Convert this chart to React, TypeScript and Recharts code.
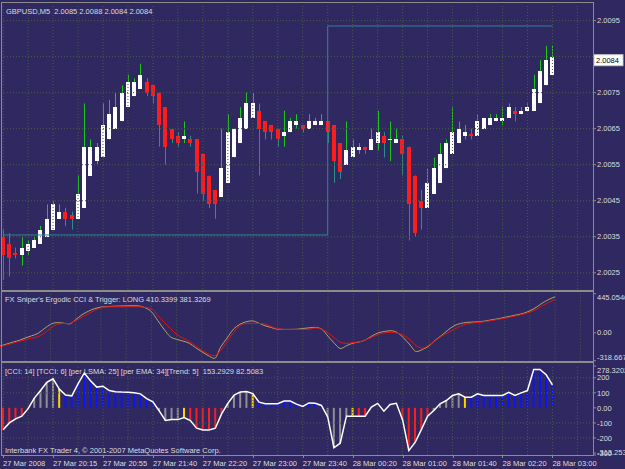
import React from "react";
import { ComposedChart, Bar, Line, XAxis, YAxis, ReferenceLine, Cell } from "recharts";

// GBPUSD M5 candles, one per 5-minute bar
const open = [
  2.0035, 2.0033, 2.00305, 2.003, 2.0031, 2.0032, 2.0033, 2.0035, 2.0037, 2.004,
  2.0042, 2.0041, 2.004, 2.0043, 2.0052, 2.0056, 2.0057, 2.0062, 2.0065, 2.0067,
  2.0071, 2.0074, 2.0076, 2.0078, 2.0077, 2.0075, 2.0071, 2.0065, 2.0063, 2.0062,
  2.0062, 2.0062, 2.0058, 2.0052, 2.0048, 2.0046, 2.005, 2.0057, 2.0061, 2.0065,
  2.0068, 2.007, 2.0067, 2.0066, 2.0065, 2.0063, 2.0064, 2.0066, 2.0066, 2.0065,
  2.0066, 2.0066, 2.0067, 2.0066, 2.0061, 2.0055, 2.0057, 2.0059, 2.006, 2.0059,
  2.0061, 2.0063, 2.0062, 2.0061, 2.0062, 2.006, 2.0052, 2.0045, 2.0043, 2.0047,
  2.005, 2.0054, 2.0058, 2.0061, 2.0063, 2.00635, 2.0063, 2.0065, 2.0066, 2.0067,
  2.0067, 2.0068, 2.007, 2.0069, 2.007, 2.007, 2.0072, 2.0077, 2.008,
];
const high = [
  2.0037, 2.0036, 2.0032, 2.0035, 2.0034, 2.0035, 2.0038, 2.0044, 2.0045, 2.0044,
  2.0043, 2.0042, 2.0052, 2.0072, 2.0062, 2.0061, 2.0072, 2.0073, 2.0075, 2.0077,
  2.008, 2.0079, 2.0083, 2.0079, 2.0077, 2.0075, 2.0071, 2.0065, 2.0064, 2.0067,
  2.0063, 2.0062, 2.0058, 2.0052, 2.0048, 2.0065, 2.0069, 2.0065, 2.0071, 2.0075,
  2.0075, 2.0072, 2.0067, 2.0066, 2.0065, 2.007, 2.0068, 2.0069, 2.0066, 2.0069,
  2.0068, 2.0069, 2.0067, 2.0066, 2.0061, 2.0067, 2.0062, 2.0061, 2.006, 2.0065,
  2.007, 2.0064, 2.0067, 2.0065, 2.0063, 2.006, 2.0052, 2.0048, 2.0054, 2.0057,
  2.0061, 2.0062, 2.0071, 2.0067, 2.0066, 2.0065, 2.0069, 2.0068, 2.0069, 2.0069,
  2.0071, 2.0072, 2.0071, 2.0071, 2.0072, 2.008, 2.0084, 2.0088, 2.0088,
];
const low = [
  2.0023, 2.0024, 2.0029, 2.0027, 2.003, 2.0032, 2.0033, 2.0035, 2.0037, 2.004,
  2.0038, 2.0037, 2.004, 2.0043, 2.0052, 2.0055, 2.0057, 2.0062, 2.0065, 2.0067,
  2.0071, 2.0074, 2.0076, 2.0074, 2.0072, 2.006, 2.0055, 2.0061, 2.006, 2.0061,
  2.006, 2.0047, 2.0045, 2.0043, 2.004, 2.0046, 2.005, 2.0057, 2.0061, 2.0065,
  2.0068, 2.0052, 2.0062, 2.0062, 2.006, 2.006, 2.0064, 2.0065, 2.0064, 2.0065,
  2.0066, 2.0066, 2.0061, 2.005, 2.0051, 2.0055, 2.0057, 2.0058, 2.0058, 2.0059,
  2.0059, 2.0057, 2.0056, 2.0061, 2.0052, 2.0034, 2.0035, 2.0037, 2.0043, 2.0047,
  2.005, 2.0054, 2.0058, 2.0061, 2.0062, 2.0062, 2.0063, 2.0065, 2.0066, 2.0067,
  2.0066, 2.0068, 2.0067, 2.0069, 2.007, 2.007, 2.0072, 2.0077, 2.008,
];
const close = [
  2.003, 2.0029, 2.003, 2.0032, 2.0033, 2.0034, 2.0037, 2.004, 2.0044, 2.0042,
  2.004, 2.004, 2.0047, 2.006, 2.006, 2.006, 2.0066, 2.0069, 2.0071, 2.0075,
  2.0078, 2.0078, 2.008, 2.0075, 2.0074, 2.0066, 2.006, 2.0062, 2.0061, 2.0063,
  2.0061, 2.0053, 2.0047, 2.0044, 2.0044, 2.0054, 2.0064, 2.0065, 2.0068, 2.0072,
  2.0072, 2.0065, 2.0064, 2.0064, 2.0062, 2.0064, 2.0067, 2.0067, 2.0065, 2.0067,
  2.0067, 2.0067, 2.0064, 2.0056, 2.0053, 2.0059, 2.006, 2.006, 2.0059, 2.0062,
  2.0064, 2.0061, 2.0062, 2.0062, 2.0058, 2.0044, 2.0036, 2.0043, 2.005, 2.0054,
  2.0058, 2.0061, 2.0064, 2.0065, 2.0064, 2.0063, 2.0067, 2.0068, 2.0068, 2.0068,
  2.0068, 2.0071, 2.0069, 2.007, 2.0071, 2.0076, 2.0081, 2.0084, 2.0085,
];
// teal step line drawn on the price panel
const stopLevel = [
  2.00355, 2.00355, 2.00355, 2.00355, 2.00355, 2.00355, 2.00355, 2.00355, 2.00355, 2.00355,
  2.00355, 2.00355, 2.00355, 2.00355, 2.00355, 2.00355, 2.00355, 2.00355, 2.00355, 2.00355,
  2.00355, 2.00355, 2.00355, 2.00355, 2.00355, 2.00355, 2.00355, 2.00355, 2.00355, 2.00355,
  2.00355, 2.00355, 2.00355, 2.00355, 2.00355, 2.00355, 2.00355, 2.00355, 2.00355, 2.00355,
  2.00355, 2.00355, 2.00355, 2.00355, 2.00355, 2.00355, 2.00355, 2.00355, 2.00355, 2.00355,
  2.00355, 2.00355, 2.00935, 2.00935, 2.00935, 2.00935, 2.00935, 2.00935, 2.00935, 2.00935,
  2.00935, 2.00935, 2.00935, 2.00935, 2.00935, 2.00935, 2.00935, 2.00935, 2.00935, 2.00935,
  2.00935, 2.00935, 2.00935, 2.00935, 2.00935, 2.00935, 2.00935, 2.00935, 2.00935, 2.00935,
  2.00935, 2.00935, 2.00935, 2.00935, 2.00935, 2.00935, 2.00935, 2.00935, 2.00935,
];

// FX Sniper's Ergodic CCI and trigger
const ergodic = [
  -152, -130, -108, -88, -60, -35, -8, 45, 95, 115,
  110, 100, 150, 205, 245, 275, 292, 298, 302, 304,
  306, 308, 306, 285, 240, 140, 40, -46, -75, -95,
  -120, -170, -217, -260, -293, -160, -60, 40, 95, 125,
  135, 110, 80, 60, 40, 38, 38, 40, 48, 56,
  61, 40, -40, -120, -180, -145, -118, -105, -80, -35,
  0, 15, 23, 0, -60, -140, -215, -190, -150, -85,
  -30, 30, 80, 105, 118, 122, 125, 135, 148, 160,
  175, 190, 205, 222, 250, 290, 340, 380, 410,
];
const trigger = [
  -160, -140, -120, -100, -80, -62, -46, -5, 50, 95,
  106, 106, 140, 175, 215, 255, 285, 296, 296, 296,
  296, 296, 296, 290, 275, 200, 120, 50, -20, -60,
  -100, -150, -200, -240, -262, -200, -100, 0, 80, 105,
  108, 106, 100, 70, 45, 38, 38, 38, 38, 40,
  55, 40, 0, -60, -110, -122, -110, -103, -80, -50,
  -20, 0, 5, -5, -30, -80, -150, -175, -140, -90,
  -40, 0, 40, 75, 100, 112, 118, 128, 140, 152,
  165, 180, 195, 212, 235, 265, 310, 345, 381,
];

// CCI 14 with trend colouring: D down, F flat, T turn, U up, - no bar
const cci = [
  -145, -100, -73, -55, -5, 65, 115, 170, 193, 125,
  85, 80, 160, 232, 180, 138, 144, 115, 107, 105,
  104, 100, 93, 62, 40, -20, -84, -78, -78, -65,
  -84, -135, -147, -147, -135, -40, 30, 85, 105, 109,
  95, 38, 27, 27, 27, 45, 45, 25, 10, 33,
  30, 16, -60, -265, -235, -55, -55, -55, -55, 5,
  30, -22, 22, 30, -80, -284, -230, -145, -55, -18,
  27, 49, 82, 93, 71, 71, 93, 82, 82, 82,
  82, 104, 82, 100, 115, 255, 255, 220, 153,
];
const trend = [
  "D", "D", "D", "D", "F", "F", "F", "F", "F", "T",
  "U", "U", "U", "U", "U", "U", "U", "U", "U", "U",
  "U", "U", "U", "U", "U", "F", "F", "F", "F", "T",
  "D", "D", "D", "D", "D", "D", "F", "F", "F", "F",
  "T", "U", "U", "U", "U", "U", "U", "U", "U", "U",
  "U", "U", "F", "F", "F", "F", "T", "D", "D", "-",
  "-", "-", "-", "-", "D", "D", "D", "D", "D", "F",
  "F", "F", "F", "F", "T", "U", "U", "U", "U", "U",
  "U", "U", "U", "U", "U", "U", "U", "U", "U",
];

const timeLabels = [
  "27 Mar 2008", "27 Mar 20:15", "27 Mar 20:55", "27 Mar 21:40", "27 Mar 22:20", "27 Mar 23:00",
  "27 Mar 23:40", "28 Mar 00:20", "28 Mar 01:00", "28 Mar 01:40", "28 Mar 02:20", "28 Mar 03:00",
];
const priceTicks = [2.0025, 2.0035, 2.0045, 2.0055, 2.0065, 2.0075, 2.0095];
const priceGrid = [2.0025, 2.0035, 2.0045, 2.0055, 2.0065, 2.0075, 2.0085, 2.0095];
const lastPrice = 2.0084;
const ergTicks = [445.0546, 0, -318.667];
const cciTicks = [278.3202, 200, 100, 0, -100, -200, -300, -313.253];
const cciGrid = [200, 100, -100, -200];

const BG = "#302961";
const GRID = "#4a5a45";
const FRAME = "#8c8c8c";
const TEXT = "#dcdcdc";
const FONT = "'Liberation Sans', Arial, sans-serif";
const FS = 7.5;
const SLOTS = 95; // chart shift: empty space after the last bar

const trendColor: Record<string, string> = { D: "#ff1c1c", F: "#8e8e8e", T: "#ffd200", U: "#0a14ff" };

const rows = Array.from({ length: SLOTS }, (_, i) =>
  i < open.length
    ? {
        idx: i,
        o: open[i],
        h: high[i],
        l: low[i],
        c: close[i],
        lvl: stopLevel[i],
        erg: ergodic[i],
        trg: trigger[i],
        cci: cci[i],
        hist: trend[i] === "-" ? null : cci[i],
        trend: trend[i],
      }
    : { idx: i }
);

const gridIdx = Array.from({ length: 24 }, (_, k) => k * 4);
const labelIdx = timeLabels.map((_, k) => k * 8);

function Candle(props: any) {
  const { x, y, width, height, payload } = props;
  if (payload == null || payload.h == null) return null;
  const { o, h, l, c } = payload;
  const span = h - l;
  const py = (v: number) => (span > 0 ? y + ((h - v) / span) * height : y);
  const cx = Math.round(x + width / 2) + 0.5;
  const up = c >= o;
  const top = Math.round(py(Math.max(o, c)));
  const bot = Math.max(top + 1, Math.round(py(Math.min(o, c))));
  const wick = up ? "#1cc41c" : "#2a8f88";
  return (
    <g>
      {top > y && <line x1={cx} x2={cx} y1={y} y2={top} stroke={wick} strokeWidth={1} />}
      {y + height > bot && <line x1={cx} x2={cx} y1={bot} y2={y + height} stroke={wick} strokeWidth={1} />}
      <path
        d={`M${cx - 2.5},${top}h4v${bot - top}h-4Z`}
        fill={up ? "#ffffff" : "#ff1c1c"}
        stroke="none"
        shapeRendering="crispEdges"
      />
    </g>
  );
}

function AxisTick(props: any) {
  const { x, y, payload, fmt, lo, hi } = props;
  const v = payload.value;
  let dy = 2.7;
  if (v === hi) dy += 4;
  if (v === lo) dy -= 3;
  return (
    <text x={x} y={y} dy={dy} fill={TEXT} fontSize={FS} fontFamily={FONT} textAnchor="start">
      {fmt(v)}
    </text>
  );
}

function TimeTick(props: any) {
  const { x, y, payload } = props;
  const label = timeLabels[payload.value / 8];
  if (!label) return null;
  const tx = Math.round(x) + 0.5;
  return (
    <g>
      <line x1={tx} x2={tx} y1={y} y2={y + 3} stroke={FRAME} />
      <text x={x} y={y} dy={10.5} fill={TEXT} fontSize={FS} fontFamily={FONT} textAnchor="start">
        {label}
      </text>
    </g>
  );
}

function PriceTag(props: any) {
  const { viewBox } = props;
  if (!viewBox) return null;
  const x = viewBox.x + viewBox.width + 1;
  const y = viewBox.y;
  return (
    <g>
      <rect x={x} y={y - 5.5} width={29} height={11} fill="#ffffff" stroke="#c8c8c8" />
      <text x={x + 2} y={y} dy={2.7} fill="#000000" fontSize={FS} fontFamily={FONT}>
        {lastPrice.toFixed(4)}
      </text>
    </g>
  );
}

const vGrid = gridIdx.map((i) => (
  <ReferenceLine key={"v" + i} x={i} stroke={GRID} strokeDasharray="1 2" />
));

const labelStyle: React.CSSProperties = {
  position: "absolute",
  color: TEXT,
  fontFamily: FONT,
  fontSize: FS,
  lineHeight: "9px",
  whiteSpace: "pre",
};

export default function App() {
  return (
    <div style={{ position: "absolute", left: 0, top: 0, width: 625, height: 469, background: BG, overflow: "hidden" }}>
      <div style={{ position: "absolute", left: 0, top: 0 }}>
        <ComposedChart width={625} height={291} data={rows} margin={{ top: 4, right: 0, bottom: 2, left: 0 }}>
          <XAxis dataKey="idx" hide />
          <YAxis
            orientation="right"
            width={32}
            domain={[2.00205, 2.00996]}
            ticks={priceTicks}
            interval={0}
            axisLine={false}
            tickLine={{ stroke: FRAME }}
            tickSize={3}
            tickMargin={1}
            tick={<AxisTick fmt={(v: number) => v.toFixed(4)} />}
          />
          {vGrid}
          {priceGrid.map((v) => (
            <ReferenceLine key={"h" + v} y={v} stroke={GRID} strokeDasharray="1 2" />
          ))}
          <Line dataKey="lvl" type="stepAfter" stroke="#2a8799" strokeWidth={1} dot={false} isAnimationActive={false} />
          <Bar
            dataKey={(d: any) => (d.h == null ? null : [d.l, d.h])}
            barSize={4}
            shape={<Candle />}
            isAnimationActive={false}
          />
          <ReferenceLine y={lastPrice} strokeOpacity={0} label={<PriceTag />} />
        </ComposedChart>
      </div>

      <div style={{ position: "absolute", left: 0, top: 291 }}>
        <ComposedChart width={625} height={71} data={rows} margin={{ top: 2.7, right: 0, bottom: 1.3, left: 0 }}>
          <XAxis dataKey="idx" hide />
          <YAxis
            orientation="right"
            width={32}
            domain={[-318.667, 445.0546]}
            ticks={ergTicks}
            interval={0}
            axisLine={false}
            tickLine={{ stroke: FRAME }}
            tickSize={3}
            tickMargin={1}
            tick={<AxisTick lo={-318.667} hi={445.0546} fmt={(v: number) => (v === 0 ? "0.00" : String(v))} />}
          />
          {vGrid}
          <Line dataKey="erg" type="monotone" stroke="#b3a464" strokeWidth={1} dot={false} isAnimationActive={false} />
          <Line dataKey="trg" type="monotone" stroke="#e4120e" strokeWidth={1} dot={false} isAnimationActive={false} />
        </ComposedChart>
      </div>

      <div style={{ position: "absolute", left: 0, top: 362 }}>
        <ComposedChart width={625} height={107} data={rows} margin={{ top: 4, right: 0, bottom: 0, left: 0 }}>
          <XAxis
            dataKey="idx"
            height={14}
            ticks={labelIdx}
            interval={0}
            axisLine={false}
            tickLine={false}
            tickSize={0}
            tickMargin={0}
            tick={<TimeTick />}
          />
          <YAxis
            orientation="right"
            width={32}
            domain={[-313.253, 278.3202]}
            ticks={cciTicks}
            interval={0}
            axisLine={false}
            tickLine={{ stroke: FRAME }}
            tickSize={3}
            tickMargin={1}
            tick={<AxisTick lo={-313.253} hi={278.3202} fmt={(v: number) => (v === 0 ? "0.00" : String(v))} />}
          />
          {vGrid}
          {cciGrid.map((v) => (
            <ReferenceLine key={"c" + v} y={v} stroke={GRID} strokeDasharray="1 2" />
          ))}
          <Bar dataKey="hist" barSize={2} isAnimationActive={false}>
            {rows.map((r: any, i) => (
              <Cell key={i} fill={trendColor[r.trend] || "none"} />
            ))}
          </Bar>
          <Line dataKey="cci" type="linear" stroke="#ffffff" strokeWidth={1.5} dot={false} isAnimationActive={false} />
        </ComposedChart>
      </div>

      {/* panel frames */}
      <div style={{ position: "absolute", left: 1, top: 2, width: 591, height: 452, border: `1px solid ${FRAME}` }} />
      <div style={{ position: "absolute", left: 1, top: 290, width: 593, height: 2, background: FRAME }} />
      <div style={{ position: "absolute", left: 1, top: 361, width: 593, height: 2, background: FRAME }} />

      <div style={{ ...labelStyle, left: 6, top: 7 }}>{"GBPUSD,M5  2.0085 2.0088 2.0084 2.0084"}</div>
      <div style={{ ...labelStyle, left: 5, top: 295 }}>{"FX Sniper's Ergodic CCI & Trigger: LONG 410.3399 381.3269"}</div>
      <div style={{ ...labelStyle, left: 5, top: 367 }}>
        {"[CCI: 14] [TCCI: 6] [per LSMA: 25] [per EMA: 34][Trend: 5]  153.2929 82.5083"}
      </div>
      <div style={{ ...labelStyle, left: 5, top: 446 }}>{"Interbank FX Trader 4, © 2001-2007 MetaQuotes Software Corp."}</div>
    </div>
  );
}
